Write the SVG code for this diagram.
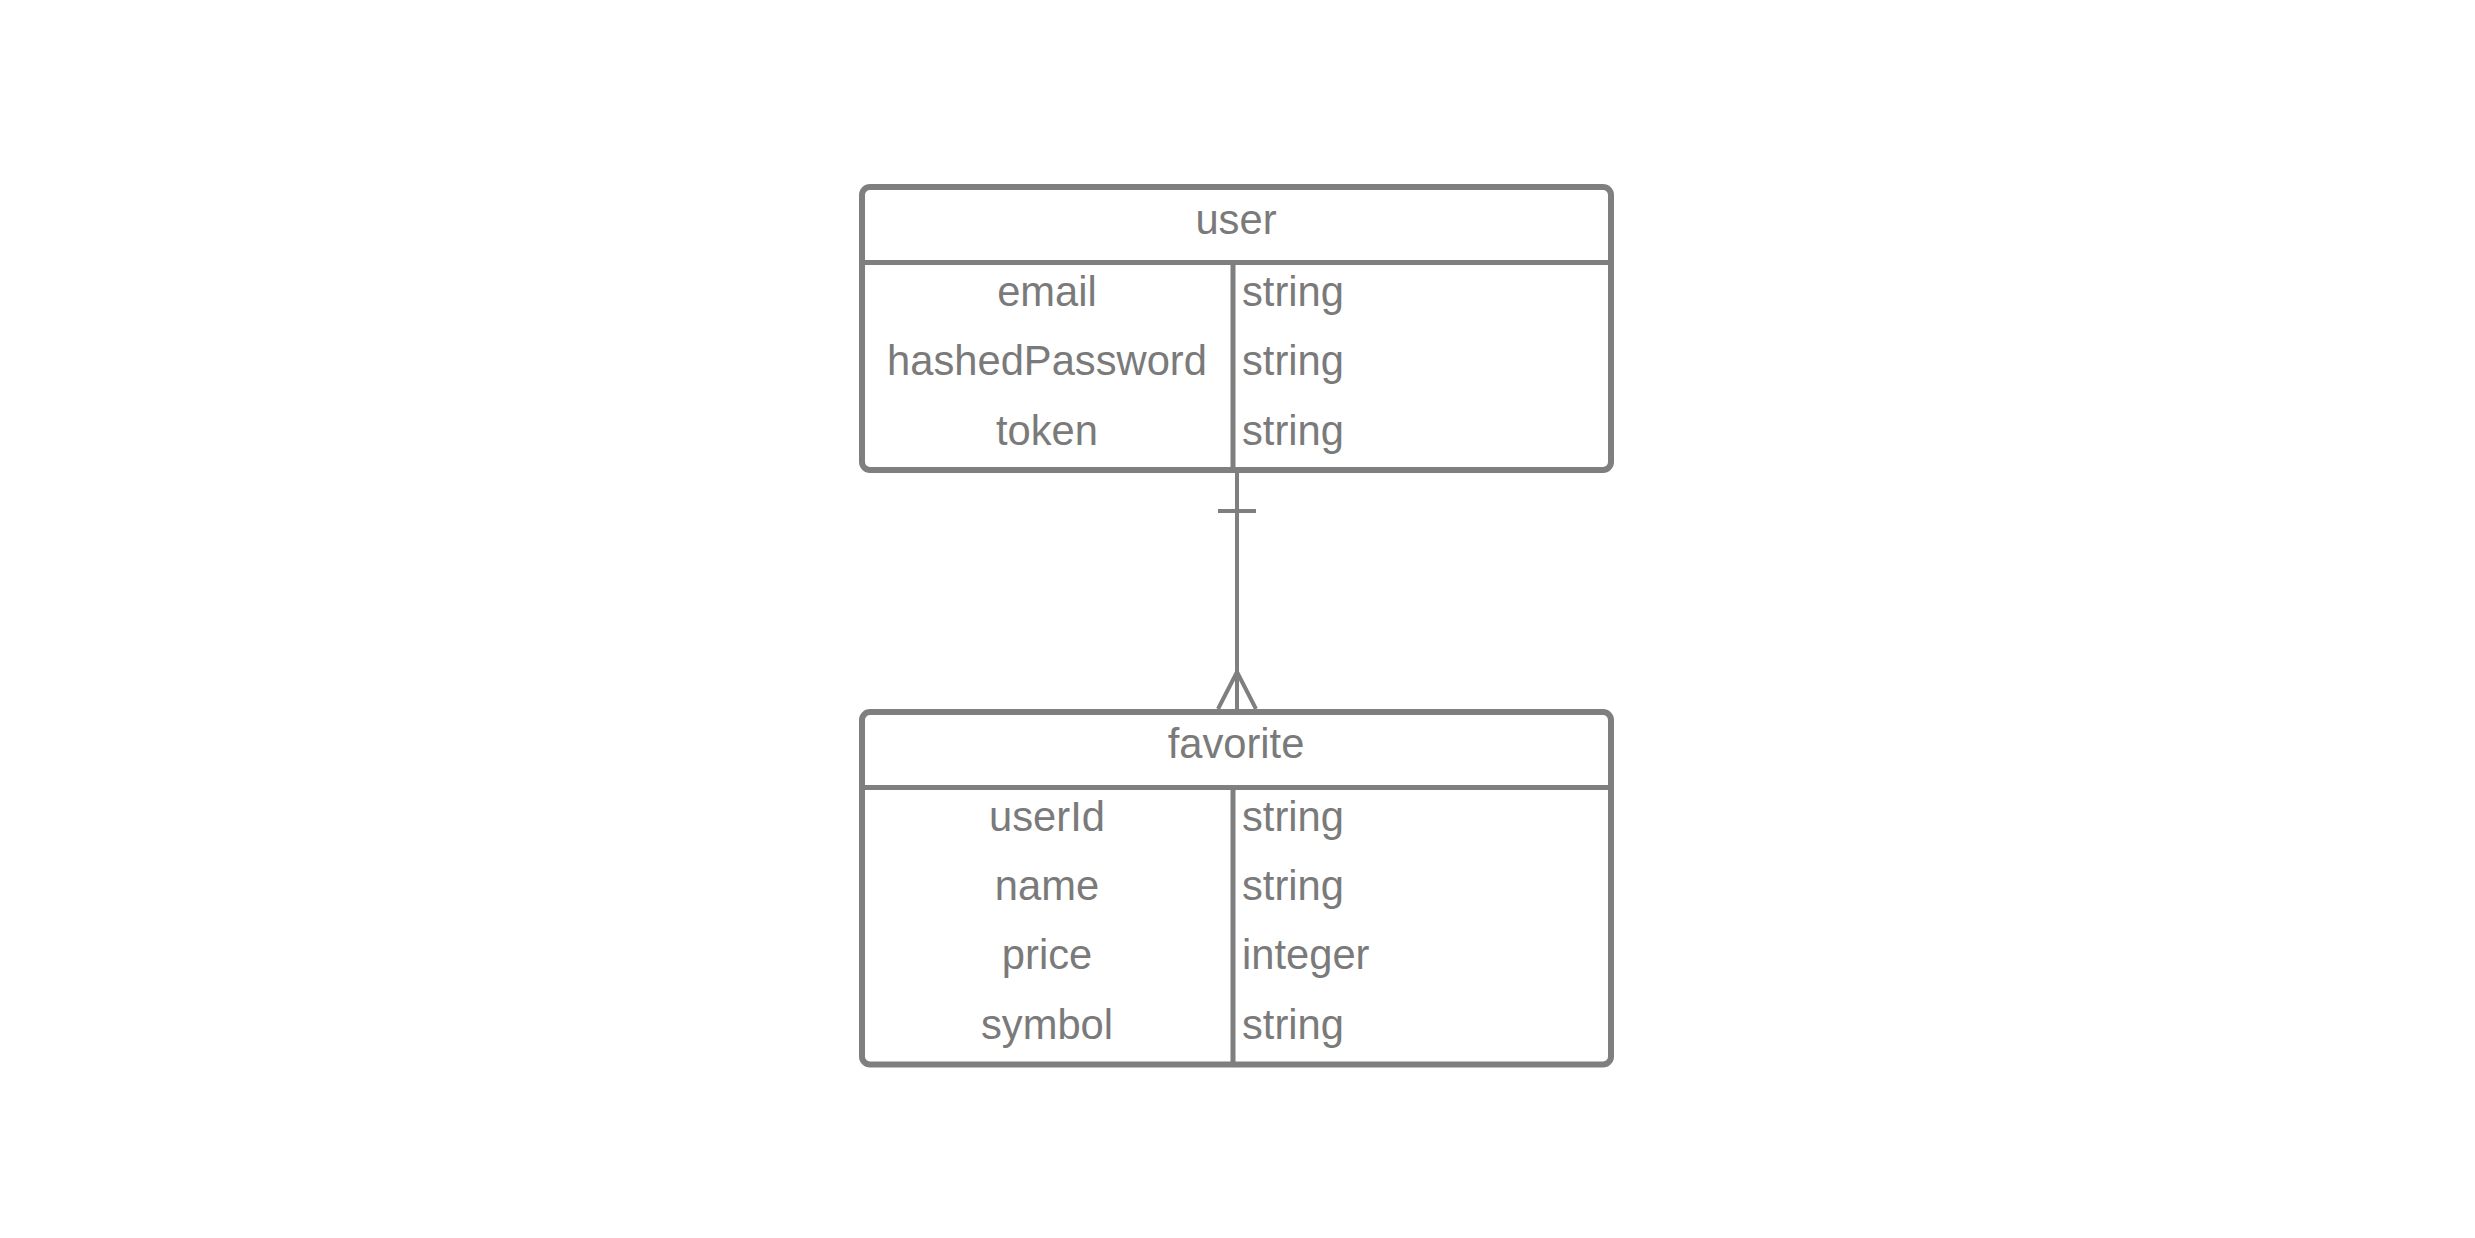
<svg xmlns="http://www.w3.org/2000/svg" width="2475" height="1238" viewBox="0 0 2475 1238">
<style>
.box{fill:#ffffff;stroke:#7f7f7f;stroke-width:6}
.ln{stroke:#7f7f7f;stroke-width:5;fill:none}
.cn{stroke:#7f7f7f;stroke-width:4;fill:none}
.t{font-family:"Liberation Sans",Arial,sans-serif;font-size:41.7px;fill:#7a7a7a}
.c{text-anchor:middle}
</style>
<rect width="2475" height="1238" fill="#ffffff"/>
<g id="connectors">
<line class="cn" x1="1237" y1="470" x2="1237" y2="709"/>
<line class="cn" x1="1218" y1="511" x2="1256" y2="511"/>
<polyline class="cn" points="1218,709 1237,672 1256,709"/>
</g>
<g id="user">
<rect class="box" x="862" y="187" width="749" height="283" rx="8"/>
<line class="ln" x1="862" y1="262.5" x2="1611" y2="262.5"/>
<line class="ln" x1="1233" y1="262.5" x2="1233" y2="470"/>
<text class="t c" x="1236" y="233.5">user</text>
<text class="t c" x="1047" y="305.5">email</text>
<text class="t c" x="1047" y="374.5">hashedPassword</text>
<text class="t c" x="1047" y="444.5">token</text>
<text class="t" x="1242" y="305.5">string</text>
<text class="t" x="1242" y="374.5">string</text>
<text class="t" x="1242" y="444.5">string</text>
</g>
<g id="favorite">
<rect class="box" x="862" y="712" width="749" height="352.5" rx="8"/>
<line class="ln" x1="862" y1="787.5" x2="1611" y2="787.5"/>
<line class="ln" x1="1233" y1="787.5" x2="1233" y2="1064.5"/>
<text class="t c" x="1236" y="758">favorite</text>
<text class="t c" x="1047" y="830.5">userId</text>
<text class="t c" x="1047" y="899.5">name</text>
<text class="t c" x="1047" y="968.5">price</text>
<text class="t c" x="1047" y="1038.5">symbol</text>
<text class="t" x="1242" y="830.5">string</text>
<text class="t" x="1242" y="899.5">string</text>
<text class="t" x="1242" y="968.5">integer</text>
<text class="t" x="1242" y="1038.5">string</text>
</g>
</svg>
